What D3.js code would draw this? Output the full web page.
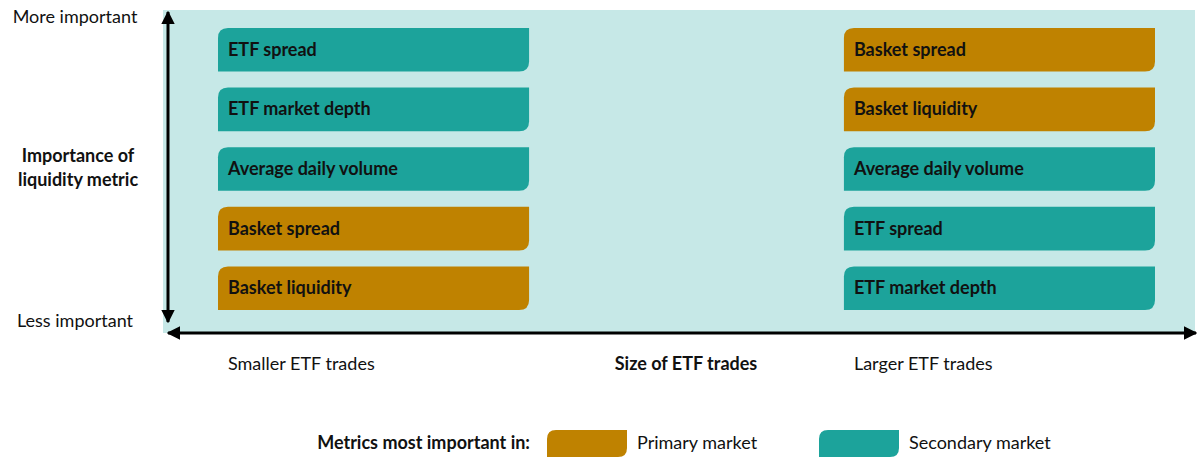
<!DOCTYPE html><html><head><meta charset="utf-8">
<script src="https://cdn.jsdelivr.net/npm/d3@7"></script>
<style>body{margin:0;background:#fff}text{font-family:Lato,"Open Sans",sans-serif}</style></head><body>
<svg id="c" width="1200" height="466"></svg>
<script>
const ranks = [1,2,3,4,5];
const smallLabels = ["ETF spread","ETF market depth","Average daily volume","Basket spread","Basket liquidity"];
const smallMarket = ["Secondary","Secondary","Secondary","Primary","Primary"];
const largeLabels = ["Basket spread","Basket liquidity","Average daily volume","ETF spread","ETF market depth"];
const largeMarket = ["Primary","Primary","Secondary","Secondary","Secondary"];
const columns = ["Smaller ETF trades","Larger ETF trades"];
const legendItems = ["Primary market","Secondary market"];
const colors = {Primary:"#bf8200",Secondary:"#1ca39b"};

const svg = d3.select("#c");
const y = d3.scaleBand().domain(ranks).range([28,310]).paddingInner(0.27).paddingOuter(0);
const x = d3.scaleBand().domain(columns).range([218,1155]).paddingInner(0.503).paddingOuter(0);

function shape(x0,y0,w,h,r){
  return `M${x0},${y0+r}Q${x0},${y0} ${x0+r},${y0}H${x0+w}V${y0+h-r}Q${x0+w},${y0+h} ${x0+w-r},${y0+h}H${x0}Z`;
}
svg.append("rect").attr("x",163).attr("y",10).attr("width",1032).attr("height",323).attr("fill","#c6e8e7");

const data = [];
ranks.forEach((r,i)=>{
  data.push({col:columns[0],r,label:smallLabels[i],m:smallMarket[i]});
  data.push({col:columns[1],r,label:largeLabels[i],m:largeMarket[i]});
});
const g = svg.append("g").selectAll("g").data(data).join("g");
g.append("path").attr("d",d=>shape(x(d.col),y(d.r),x.bandwidth(),y.bandwidth(),10)).attr("fill",d=>colors[d.m]);
g.append("text").attr("x",d=>x(d.col)+10).attr("y",d=>y(d.r)+y.bandwidth()/2+6)
 .attr("font-size",18).attr("font-weight",700).attr("fill","#111").text(d=>d.label);

const defs = svg.append("defs");
defs.append("marker").attr("id","ah").attr("viewBox","0 0 10 10").attr("refX",9).attr("refY",5)
 .attr("markerWidth",4.5).attr("markerHeight",4.5).attr("orient","auto-start-reverse").attr("markerUnits","strokeWidth")
 .append("path").attr("d","M0,0L10,5L0,10Z").attr("fill","#000");
svg.append("line").attr("x1",168).attr("y1",12).attr("x2",168).attr("y2",322).attr("stroke","#000").attr("stroke-width",3)
 .attr("marker-start","url(#ah)").attr("marker-end","url(#ah)");
svg.append("line").attr("x1",168).attr("y1",333).attr("x2",1196).attr("y2",333).attr("stroke","#000").attr("stroke-width",3)
 .attr("marker-start","url(#ah)").attr("marker-end","url(#ah)");

const t = (xx,yy,s,o={})=>svg.append("text").attr("x",xx).attr("y",yy).attr("font-size",o.fs||18)
 .attr("font-weight",o.b?700:400).attr("text-anchor",o.a||"start").attr("fill","#111").text(s);
t(75,23,"More important",{a:"middle"});
t(75,327,"Less important",{a:"middle"});
t(78,162,"Importance of",{a:"middle",b:1});
t(78,186,"liquidity metric",{a:"middle",b:1});
t(x(columns[0])+10,370,columns[0]);
t(x(columns[1])+10,370,columns[1]);
t(686,370,"Size of ETF trades",{a:"middle",b:1});

t(530,449,"Metrics most important in:",{a:"end",b:1});
const lx = [547,819];
legendItems.forEach((s,i)=>{
  svg.append("path").attr("d",shape(lx[i],430,80,27,9)).attr("fill",colors[i?"Secondary":"Primary"]);
  t(lx[i]+90,449,s);
});
</script></body></html>
